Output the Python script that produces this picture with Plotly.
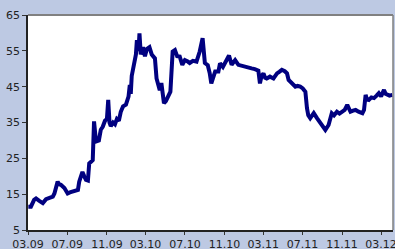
import plotly.graph_objects as go

dates = [
    "2009-03-02", "2009-03-10", "2009-03-20", "2009-03-26", "2009-04-04", "2009-04-16",
    "2009-04-26", "2009-05-05", "2009-05-17", "2009-05-22", "2009-05-27", "2009-06-01",
    "2009-06-05", "2009-06-11", "2009-06-22", "2009-07-02", "2009-07-09", "2009-07-18",
    "2009-07-28", "2009-08-03", "2009-08-07", "2009-08-12", "2009-08-17", "2009-08-23",
    "2009-08-28", "2009-09-03", "2009-09-07", "2009-09-12", "2009-09-18", "2009-09-22",
    "2009-09-25", "2009-09-28", "2009-10-07", "2009-10-13", "2009-10-19", "2009-10-26",
    "2009-11-01", "2009-11-05", "2009-11-09", "2009-11-13", "2009-11-20", "2009-11-26",
    "2009-12-02", "2009-12-08", "2009-12-14", "2009-12-21", "2009-12-30", "2010-01-07",
    "2010-01-11", "2010-01-14", "2010-01-17", "2010-01-24", "2010-01-30", "2010-02-02",
    "2010-02-07", "2010-02-10", "2010-02-14", "2010-02-21", "2010-02-27", "2010-03-05",
    "2010-03-13", "2010-03-20", "2010-03-30", "2010-04-04", "2010-04-10", "2010-04-14",
    "2010-04-19", "2010-04-23", "2010-04-27", "2010-05-03", "2010-05-09", "2010-05-17",
    "2010-05-24", "2010-05-31", "2010-06-07", "2010-06-15", "2010-06-23", "2010-07-01",
    "2010-07-10", "2010-07-16", "2010-07-26", "2010-08-06", "2010-08-16", "2010-08-25",
    "2010-09-01", "2010-09-10", "2010-09-16", "2010-09-21", "2010-09-26", "2010-10-03",
    "2010-10-13", "2010-10-18", "2010-10-27", "2010-11-03", "2010-11-15", "2010-11-23",
    "2010-12-04", "2010-12-14", "2010-12-24", "2011-01-04", "2011-01-14", "2011-01-24",
    "2011-02-03", "2011-02-09", "2011-02-14", "2011-02-19", "2011-02-24", "2011-03-02",
    "2011-03-07", "2011-03-12", "2011-03-22", "2011-04-02", "2011-04-13", "2011-04-21",
    "2011-04-28", "2011-05-07", "2011-05-14", "2011-05-19", "2011-05-29", "2011-06-09",
    "2011-06-16", "2011-06-24", "2011-07-02", "2011-07-10", "2011-07-15", "2011-07-19",
    "2011-07-25", "2011-08-05", "2011-08-15", "2011-08-25", "2011-09-02", "2011-09-10",
    "2011-09-20", "2011-09-30", "2011-10-07", "2011-10-16", "2011-10-24", "2011-11-02",
    "2011-11-09", "2011-11-17", "2011-11-23", "2011-11-27", "2011-12-05", "2011-12-13",
    "2011-12-22", "2012-01-03", "2012-01-08", "2012-01-13", "2012-01-17", "2012-01-23",
    "2012-01-31", "2012-02-08", "2012-02-16", "2012-02-23", "2012-03-01", "2012-03-10",
    "2012-03-15", "2012-03-20", "2012-03-27", "2012-04-05",
]

values = [
    11.5, 11.5, 13.4, 13.8, 13.2, 12.5,
    13.6, 13.9, 14.3, 15.2, 16.5, 18.5,
    17.8, 17.6, 16.7, 15.2, 15.5, 15.7,
    15.8, 16.2, 18.5, 20.4, 21.2, 19.9,
    19.0, 18.8, 23.6, 24.0, 24.5, 35.3,
    32.0, 29.7, 30.0, 33.0, 33.8, 35.5,
    36.0, 41.3, 35.0, 34.0, 35.0, 34.5,
    36.0, 35.5, 38.0, 39.5, 40.0, 42.2,
    45.5, 43.0, 48.0, 51.6, 54.0, 58.0,
    55.0, 59.9, 54.0, 56.0, 53.5, 55.5,
    56.0, 54.0, 52.9, 47.3, 45.5, 44.0,
    46.0, 42.7, 40.4, 41.0, 42.2, 43.6,
    54.8, 55.2, 53.5, 53.4, 51.1, 52.4,
    52.0, 51.6, 52.2, 52.0, 54.8, 58.5,
    51.6, 51.0, 48.8, 45.9, 47.3, 49.2,
    49.2, 51.5, 50.5, 51.9, 53.7, 51.1,
    52.4, 51.1, 50.8, 50.6, 50.3, 50.1,
    49.9, 49.7, 49.5, 45.9, 48.0, 48.7,
    47.5, 47.3, 47.8, 47.3, 48.7, 49.2,
    49.7, 49.3, 48.7, 46.9, 45.9, 45.0,
    45.2, 45.0, 44.5, 43.6, 39.0, 37.0,
    36.2, 37.6, 36.2, 34.8, 34.0, 32.9,
    34.3, 37.6, 37.0, 38.0, 37.5, 38.0,
    38.5, 39.9, 38.8, 38.0, 38.3, 38.5,
    38.0, 37.6, 38.5, 42.7, 41.5, 41.3,
    42.0, 41.8, 42.5, 43.2, 42.3, 44.1,
    43.0, 42.7, 42.5, 42.7,
]

tick_dates = ["2009-03-01", "2009-07-01", "2009-11-01", "2010-03-01", "2010-07-01",
              "2010-11-01", "2011-03-01", "2011-07-01", "2011-11-01", "2012-03-01"]
tick_labels = ["03.09", "07.09", "11.09", "03.10", "07.10",
               "11.10", "03.11", "07.11", "11.11", "03.12"]
y_ticks = [5, 15, 25, 35, 45, 55, 65]

fig = go.Figure()
fig.add_trace(go.Scatter(
    x=dates, y=values, mode="lines",
    line=dict(color="#000080", width=4, shape="linear"),
    hoverinfo="skip",
))

fig.update_layout(
    width=395, height=249,
    margin=dict(l=28, r=2, t=15, b=19, autoexpand=False),
    paper_bgcolor="#BDC9E3",
    plot_bgcolor="#FFFFFF",
    showlegend=False,
    font=dict(family="DejaVu Sans", size=11, color="#222222"),
    shapes=[
        dict(type="line", xref="paper", yref="paper", x0=0, x1=1, y0=1, y1=1,
             line=dict(color="#808080", width=2)),
        dict(type="line", xref="paper", yref="paper", x0=1, x1=1, y0=0, y1=1,
             line=dict(color="#808080", width=1.5)),
    ],
)
fig.update_xaxes(
    type="date", range=["2009-03-01", "2012-04-07"],
    tickvals=tick_dates, ticktext=tick_labels, automargin=False,
    ticklabeloverflow="allow",
    ticks="outside", ticklen=3, tickcolor="#333333",
    showline=True, linecolor="#222222", linewidth=1.5,
    showgrid=False, zeroline=False,
)
fig.update_yaxes(
    range=[5, 65], tickvals=y_ticks, automargin=False,
    ticklabeloverflow="allow",
    ticks="outside", ticklen=4, tickcolor="#333333",
    showline=True, linecolor="#222222", linewidth=1.5,
    showgrid=False, zeroline=False,
)

fig.write_html(
    "out.html",
    config={"displayModeBar": False},
    post_script="document.body.style.margin='0';document.body.style.overflow='hidden';",
)
